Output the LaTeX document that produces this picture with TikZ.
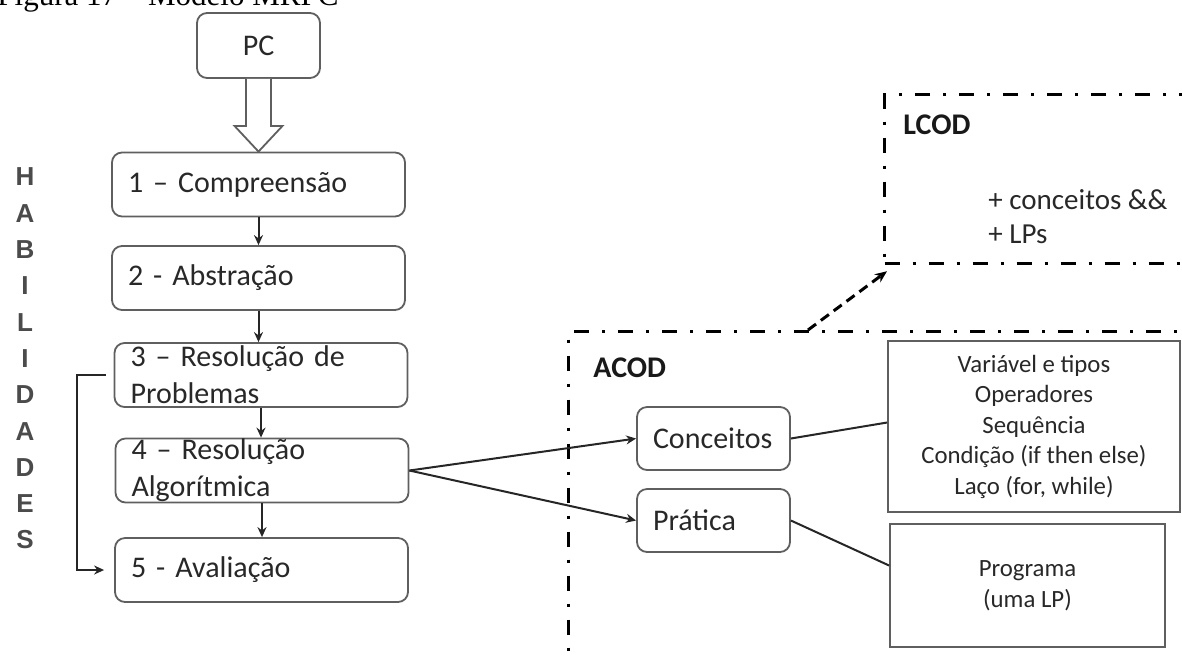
\documentclass[tikz,border=0pt]{standalone}
\usepackage{fontspec}
\setmainfont{Carlito}
\newfontfamily\habfont{Liberation Sans}
\newfontfamily\capfont{Liberation Serif}
\usetikzlibrary{arrows.meta, positioning, calc}
\definecolor{boxgray}{RGB}{95,95,95}
\definecolor{txtdark}{RGB}{40,40,40}
\definecolor{habgray}{RGB}{75,75,75}
\newcommand{\stepfont}{\fontsize{15pt}{18.5pt}\selectfont}
\newcommand{\listfont}{\fontsize{12.4pt}{15.25pt}\selectfont}
\tikzset{
  stepbox/.style={rectangle, draw=boxgray, fill=white, rounded corners=5pt,
    line width=0.9pt, minimum width=146.5pt, minimum height=32pt,
    text width=130.5pt, inner xsep=8pt, inner ysep=0pt,
    align=left, font=\stepfont, text=txtdark},
  subbox/.style={stepbox, minimum width=76.5pt, minimum height=31.5pt, text width=60.5pt},
  listbox/.style={rectangle, draw=boxgray, fill=white, line width=0.9pt,
    align=center, font=\listfont, text=txtdark, inner sep=0pt},
  frame/.style={draw=black, line width=1.6pt,
    dash pattern=on 7.5pt off 6.5pt on 1.5pt off 6.5pt, anchor=north west, inner sep=0pt},
  framelabel/.style={font=\stepfont\bfseries, text=black!90, anchor=west, inner sep=0pt},
  hollow/.style={draw=boxgray, line width=0.9pt, fill=white},
  arr/.style={-{Stealth[length=5pt,width=4.5pt]}, line width=1pt, color=black!85},
  link/.style={line width=1pt, color=black!85},
  dasharr/.style={-{Stealth[length=6pt,width=5pt]}, line width=1.5pt, dash pattern=on 5pt off 3pt},
  hab/.style={font=\habfont\bfseries\fontsize{13pt}{13pt}\selectfont, text=habgray, inner sep=0pt}
}

\begin{document}
\begin{tikzpicture}[x=0.5pt, y=-0.5pt]
  \useasboundingbox (0,0) rectangle (1182,655);
  \clip (0,0) rectangle (1182,655);

  % caption, cut by the top edge
  \node[font=\capfont\fontsize{15.5pt}{15.5pt}\selectfont, anchor=base west, inner sep=0pt] (cap) at (-3,5) {Figura 17 – Modelo MRPC};

  % dash-dot frames (open to the right and below)
  \node[frame, minimum width=400pt, minimum height=200pt] (acod) at (567,330) {};
  \node[frame, minimum width=200pt, minimum height=84.5pt] (lcod) at (883,93) {};
  \node[framelabel] (acodlbl) at (593,368) {ACOD};
  \node[framelabel] (lcodlbl) at (903,125) {LCOD};
  \node[anchor=west, align=left, font=\fontsize{14.5pt}{17pt}\selectfont, text=txtdark, inner sep=0pt] (lcodtxt) at (988,217) {+ conceitos \&\&\\+ LPs};

  % skills column
  \foreach \ch [count=\i from 0] in {H,A,B,I,L,I,D,A,D,E,S}
    \node[hab] (hab\i) at (25,177+36.3*\i) {\ch};

  % steps
  \node[stepbox, minimum width=61.5pt, text width=45.5pt, align=center, minimum height=32.5pt] (pc) at (258.5,45.5) {PC};
  \node[stepbox] (c1) at (258.5,184.5) {1 – Compreensão};
  \node[stepbox] (c2) at (258.5,278) {2 - Abstração};
  \node[stepbox] (c3) at (261,375) {3 – Resolução de\\Problemas};
  \node[stepbox] (c4) at (262,470.5) {4 – Resolução\\Algorítmica};
  \node[stepbox] (c5) at (261.5,570) {5 - Avaliação};

  % hollow arrow PC -> 1
  \draw[hollow] ($(pc.south)+(-12.5,0)$) -- ++(0,47) -- ++(-11.5,0) -- (c1.north)
    -- ($(pc.south)+(24,47)$) -- ++(-11.5,0) -- ($(pc.south)+(12.5,0)$);

  % step arrows
  \foreach \a/\b in {c1/c2, c2/c3, c3/c4, c4/c5}
    \draw[arr] (\a.south) -- (\a.south |- \b.north);
  \draw[arr, shorten <=4pt, shorten >=5pt] (c3.west) -- ++(-37,0) |- (c5.west);

  % ACOD content
  \node[subbox] (conc) at (713.5,438.5) {Conceitos};
  \node[subbox] (prat) at (713.5,520.5) {Prática};
  \node[listbox, minimum width=146pt, minimum height=85.5pt] (lista) at (1034,426.5)
    {Variável e tipos\\Operadores\\Sequência\\Condição (if then else)\\Laço (for, while)};
  \node[listbox, minimum width=137.5pt, minimum height=61.5pt] (prog) at (1027.5,585.5)
    {Programa\\(uma LP)};

  \draw[arr] (c4.east) -- (conc.west);
  \draw[arr] (c4.east) -- (prat.west);
  \draw[link] (conc.east) -- ([yshift=2pt]lista.west);
  \draw[link] (prat.east) -- ([yshift=10pt]prog.west);

  % ACOD -> LCOD
  \draw[dasharr] ([xshift=120.5pt]acod.north west) -- ([xshift=2pt,yshift=-3pt]lcod.south west);
\end{tikzpicture}
\end{document}
